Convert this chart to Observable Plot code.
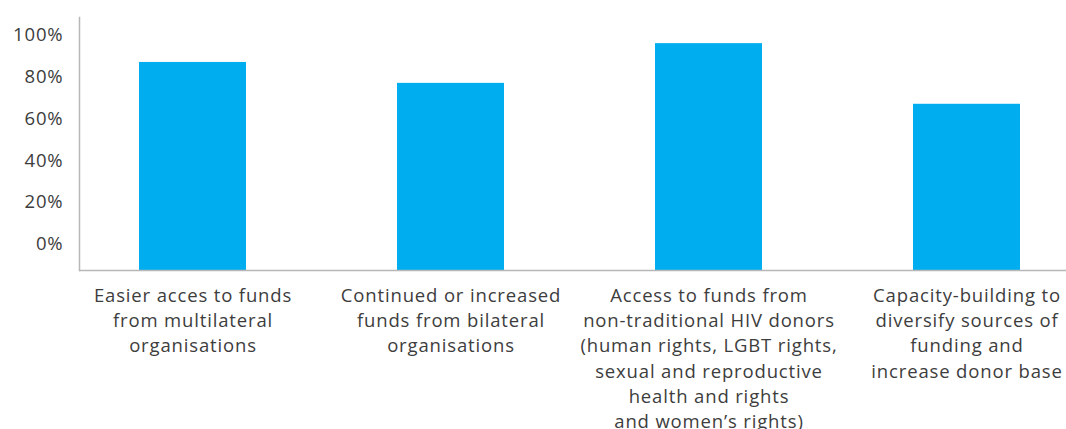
<!DOCTYPE html>
<html>
<head>
<meta charset="utf-8">
<script src="https://cdn.jsdelivr.net/npm/d3@7"></script>
<script src="https://cdn.jsdelivr.net/npm/@observablehq/plot@0.6"></script>
<style>
  html, body { margin: 0; padding: 0; background: #fff; }
  svg text { letter-spacing: 0.85px; }
</style>
</head>
<body>
<div id="chart"></div>
<script>
const categories = [
  "Easier acces to funds\nfrom multilateral\norganisations",
  "Continued or increased\nfunds from bilateral\norganisations",
  "Access to funds from\nnon-traditional HIV donors\n(human rights, LGBT rights,\nsexual and reproductive\nhealth and rights\nand women\u2019s rights)",
  "Capacity-building to\ndiversify sources of\nfunding and\nincrease donor base"
];
const values = [87, 77, 96, 67];
const yTicks = [0, 20, 40, 60, 80, 100];
const yFloor = -12.5;
const yCeil = 108.5;

const data = categories.map((c, i) => ({category: c, value: values[i]}));

const textColor = "#3d3d3d";
const axisColor = "#b7b7b7";

const chart = Plot.plot({
  width: 1066,
  height: 429,
  marginLeft: 79,
  marginRight: 0,
  marginTop: 17,
  marginBottom: 159,
  style: {fontFamily: "'Open Sans', Lato, sans-serif", fontSize: "18.5px", color: textColor, background: "#fff"},
  x: {domain: categories, range: [63.5, 1095.5], paddingInner: 0.585, paddingOuter: 0.2925},
  y: {domain: [yFloor, yCeil]},
  marks: [
    Plot.barY(data, {x: "category", y1: yFloor, y2: "value", fill: "#00AEEF"}),
    Plot.ruleY([yFloor], {stroke: axisColor, strokeWidth: 1.5}),
    Plot.frame({anchor: "left", stroke: axisColor, strokeWidth: 1.5}),
    Plot.axisY(yTicks, {
      tickSize: 0, tickPadding: 16, tickFormat: d => d + "%",
      fontSize: 18.5, fill: textColor, label: null
    }),
    Plot.axisX({
      tickSize: 0, tickPadding: 13, lineHeight: 1.37,
      fontSize: 18.5, fill: textColor, label: null
    })
  ]
});
document.getElementById("chart").appendChild(chart);
</script>
</body>
</html>
